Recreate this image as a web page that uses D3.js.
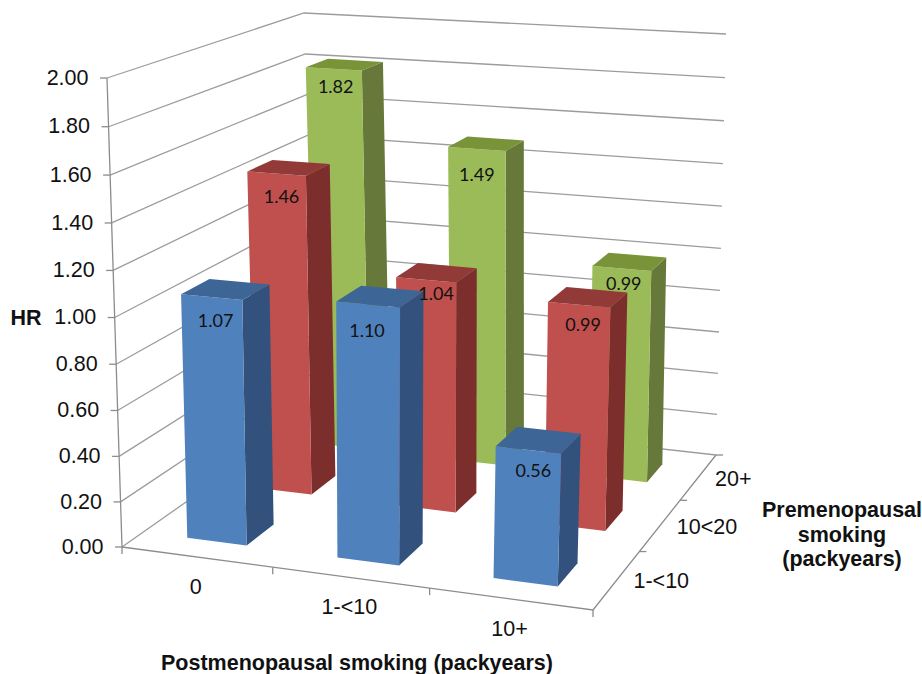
<!DOCTYPE html>
<html><head><meta charset="utf-8">
<script src="https://cdnjs.cloudflare.com/ajax/libs/d3/7.8.5/d3.min.js"></script>
<style>html,body{margin:0;padding:0;background:#fff;overflow:hidden}svg{display:block}</style>
</head><body><svg id="c" width="922" height="674"></svg>
<script>
const postCats = ["0", "1-<10", "10+"];
const preCats = ["1-<10", "10<20", "20+"];
const hrBlue = [1.07, 1.10, 0.56];
const hrRed = [1.46, 1.04, 0.99];
const hrGreen = [1.82, 1.49, 0.99];
const yTicks = [0, 0.2, 0.4, 0.6, 0.8, 1.0, 1.2, 1.4, 1.6, 1.8, 2.0];
const seriesValues = [hrBlue, hrRed, hrGreen];

const palette = [
  {front:"#4f81bd", top:"#3d6696", side:"#32527d"},
  {front:"#c0504d", top:"#923a38", side:"#7c2e2c"},
  {front:"#9bbb59", top:"#799339", side:"#67793a"}
];
// chart frame in the picture: floor quad [front-left, front-right, back-right, back-left]
const floorQuad = [[122,547],[593,610],[716,455],[317,410]];
// top of the value axis at front-left, back-right, back-left
const topFL=[107,78], topBR=[726,34], topBL=[304,13];
const k = -0.042; // vertical perspective

function quadCoef(q){
  const [[x0,y0],[x1,y1],[x2,y2],[x3,y3]] = q;
  const dx1=x1-x2,dx2=x3-x2,sx=x0-x1+x2-x3,dy1=y1-y2,dy2=y3-y2,sy=y0-y1+y2-y3;
  const den=dx1*dy2-dx2*dy1, g=(sx*dy2-dx2*sy)/den, h=(dx1*sy-sx*dy1)/den;
  return {a:x1-x0+g*x1,b:x3-x0+h*x3,c:x0,d:y1-y0+g*y1,e:y3-y0+h*y3,f:y0,g,h};
}
const Q = quadCoef(floorQuad);
const wOf=(u,v)=>Q.g*u+Q.h*v+1;
const cFL=[topFL[0]*(1+k)-floorQuad[0][0], topFL[1]*(1+k)-floorQuad[0][1]];
const cBR=[topBR[0]*(wOf(1,1)+k)-floorQuad[2][0]*wOf(1,1), topBR[1]*(wOf(1,1)+k)-floorQuad[2][1]*wOf(1,1)];
const cBL=[topBL[0]*(wOf(0,1)+k)-floorQuad[3][0]*wOf(0,1), topBL[1]*(wOf(0,1)+k)-floorQuad[3][1]*wOf(0,1)];

const yScale = d3.scaleLinear().domain([0,2]).range([0,1]);
const uBand = d3.scaleBand().domain(postCats).range([0,1]).paddingInner(0.6).paddingOuter(0.3);
const vBand = d3.scaleBand().domain(preCats).range([0,0.985]).paddingInner(0.6).paddingOuter(0.28);
const uCell = d3.scaleBand().domain(postCats).range([0,1]);
const vCell = d3.scaleBand().domain(preCats).range([0,1]);

function P(u,v,val){
  const t=yScale(val), w=wOf(u,v)+k*t;
  const cx=cFL[0]+u*(cBR[0]-cBL[0])+v*(cBL[0]-cFL[0]);
  const cy=cFL[1]+u*(cBR[1]-cBL[1])+v*(cBL[1]-cFL[1]);
  return [(Q.a*u+Q.b*v+Q.c+cx*t)/w,(Q.d*u+Q.e*v+Q.f+cy*t)/w];
}
const svg=d3.select("#c");
const line=d3.line(), poly=pts=>line(pts)+"Z";
const gridCol="#9c9c9c", axisCol="#8c8c8c";
const SANS="'Liberation Sans',Arial,sans-serif";

// walls
const grid=svg.append("g").attr("fill","none").attr("stroke",gridCol).attr("stroke-width",1.3);
grid.selectAll("path").data(yTicks).join("path")
  .attr("d",t=>line([P(0,0,t),P(0,1,t),P(1,1,t)]));
// axes
const axes=svg.append("g").attr("fill","none").attr("stroke",axisCol).attr("stroke-width",1.3);
axes.append("path").attr("d",line([P(0,0,2),P(0,0,0)]));
axes.append("path").attr("d",line([P(0,0,0),P(1,0,0),P(1,1,0)]));
axes.selectAll(".yt").data(yTicks).join("path").attr("class","yt")
  .attr("d",t=>{const p=P(0,0,t);return line([[p[0]-7,p[1]],p]);});
axes.selectAll(".xt").data(d3.range(0,4)).join("path").attr("class","xt")
  .attr("d",i=>{const p=P(i/3,0,0);return line([p,[p[0],p[1]+7]]);});
axes.selectAll(".zt").data(d3.range(1,4)).join("path").attr("class","zt")
  .attr("d",i=>{const p=P(1,i/3,0);return line([p,[p[0]+7,p[1]]]);});

// bars, back row first
const bars=[];
for(let r=preCats.length-1;r>=0;r--) postCats.forEach((c,ci)=>bars.push({r,ci,c,row:preCats[r],val:seriesValues[r][ci]}));
const labelNudge={ "0:0":[2,4],"0:1":[-3,7],"0:2":[3,1],"1:0":[3,4],"1:1":[8,-5],"1:2":[2,1],"2:0":[0,-1],"2:1":[-2,6],"2:2":[0,-4] };
const g=svg.selectAll(".bar").data(bars).join("g").attr("class","bar");
g.each(function(d){
  const u0=uBand(d.c),u1=u0+uBand.bandwidth(),v0=vBand(d.row),v1=v0+vBand.bandwidth(),col=palette[d.r],s=d3.select(this);
  s.append("path").attr("fill",col.side).attr("d",poly([P(u1,v0,0),P(u1,v1,0),P(u1,v1,d.val),P(u1,v0,d.val)]));
  s.append("path").attr("fill",col.front).attr("d",poly([P(u0,v0,0),P(u1,v0,0),P(u1,v0,d.val),P(u0,v0,d.val)]));
  s.append("path").attr("fill",col.top).attr("d",poly([P(u0,v0,d.val),P(u1,v0,d.val),P(u1,v1,d.val),P(u0,v1,d.val)]));
});
svg.selectAll(".lab").data(bars).join("text").attr("class","lab")
  .attr("font-family","Lato,Carlito,sans-serif").attr("font-size",18).attr("fill","#111")
  .attr("text-anchor","middle").attr("dominant-baseline","middle")
  .text(d=>d.val.toFixed(2))
  .attr("x",d=>{const u=uBand(d.c)+uBand.bandwidth()/2;return P(u,vBand(d.row),d.val)[0]+2+labelNudge[d.r+":"+d.ci][0];})
  .attr("y",d=>{const u=uBand(d.c)+uBand.bandwidth()/2;return P(u,vBand(d.row),d.val)[1]+21+labelNudge[d.r+":"+d.ci][1];});

// tick labels
const txt=svg.append("g").attr("font-family",SANS).attr("font-size",21.5).attr("fill","#111");
txt.selectAll(".yl").data(yTicks).join("text").attr("class","yl").attr("text-anchor","end").attr("dominant-baseline","middle")
  .attr("x",t=>P(0,0,t)[0]-18.5).attr("y",t=>P(0,0,t)[1]+1).text(t=>t.toFixed(2));
txt.selectAll(".xl").data(postCats).join("text").attr("class","xl").attr("text-anchor","middle").attr("dominant-baseline","middle")
  .attr("x",c=>P(uCell(c)+uCell.bandwidth()/2,0,0)[0]-1).attr("y",c=>P(uCell(c)+uCell.bandwidth()/2,0,0)[1]+31).text(c=>c);
txt.selectAll(".zl").data(preCats).join("text").attr("class","zl").attr("text-anchor","start").attr("dominant-baseline","middle")
  .attr("x",c=>P(1,vCell(c)+vCell.bandwidth()/2,0)[0]+16.5).attr("y",c=>P(1,vCell(c)+vCell.bandwidth()/2,0)[1]+3).text(c=>c);

// titles
const ttl=svg.append("g").attr("font-family",SANS).attr("font-weight","bold").attr("font-size",21.5).attr("fill","#111").attr("text-anchor","middle");
ttl.append("text").attr("x",26).attr("y",325).text("HR");
ttl.append("text").attr("x",357).attr("y",670).text("Postmenopausal smoking (packyears)");
ttl.selectAll(".pre").data(["Premenopausal","smoking","(packyears)"]).join("text").attr("class","pre")
  .attr("x",842).attr("y",(d,i)=>517+i*24.5).text(d=>d);
</script></body></html>
